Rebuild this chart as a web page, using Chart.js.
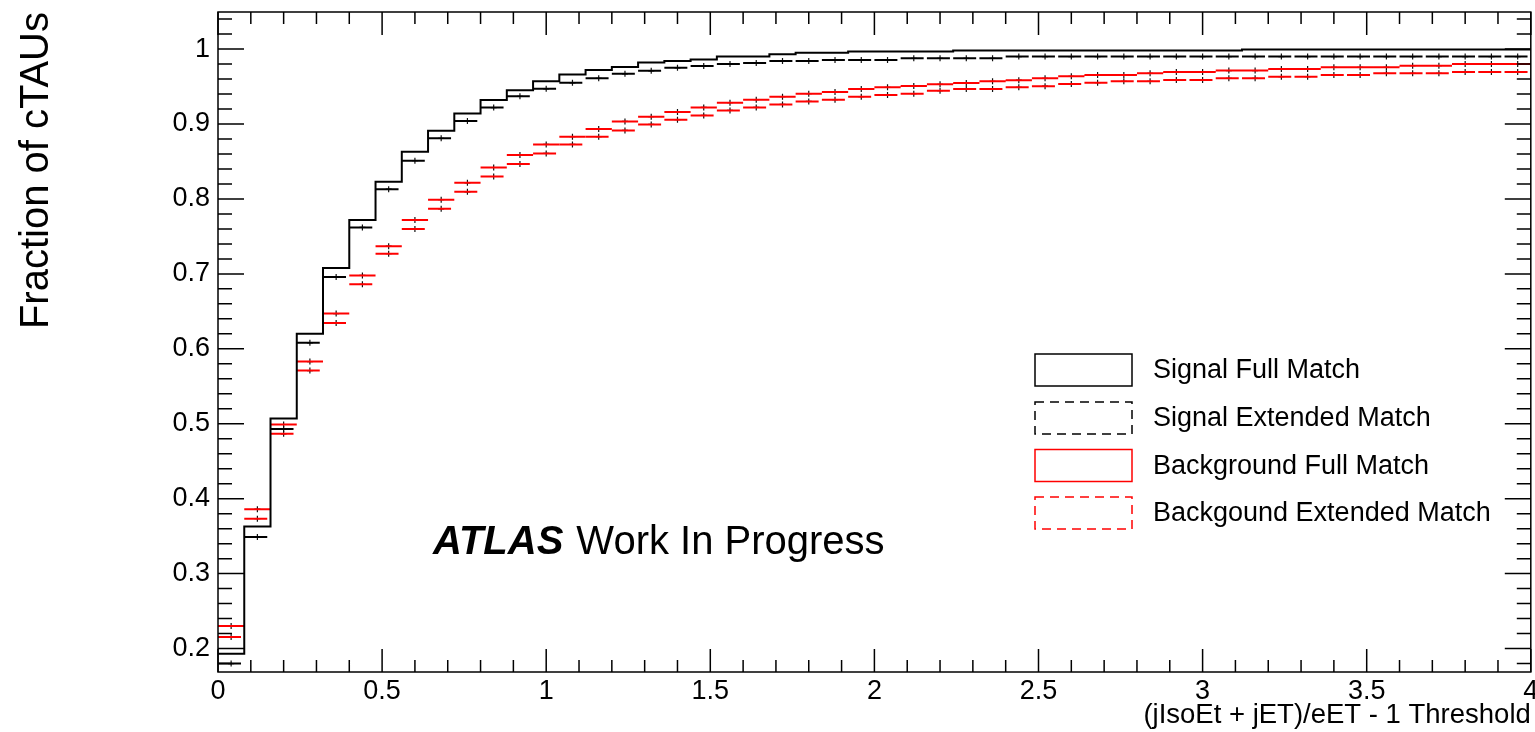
<!DOCTYPE html>
<html><head><meta charset="utf-8">
<script src="https://cdn.jsdelivr.net/npm/chart.js@4.4.1/dist/chart.umd.min.js"></script>
<style>html,body{margin:0;padding:0;background:#fff;overflow:hidden}canvas{display:block}</style>
</head><body>
<canvas id="c" width="1535" height="732"></canvas>
<script>
const binEdges = [0,0.08,0.16,0.24,0.32,0.4,0.48,0.56,0.64,0.72,0.8,0.88,0.96,1.04,1.12,1.2,1.28,1.36,1.44,1.52,1.6,1.68,1.76,1.84,1.92,2,2.08,2.16,2.24,2.32,2.4,2.48,2.56,2.64,2.72,2.8,2.88,2.96,3.04,3.12,3.2,3.28,3.36,3.44,3.52,3.6,3.68,3.76,3.84,3.92,4];
const sigFull = [0.193,0.363,0.507,0.620,0.708,0.772,0.823,0.863,0.891,0.914,
  0.932,0.945,0.957,0.966,0.972,0.976,0.982,0.984,0.986,0.990,
  0.990,0.993,0.995,0.995,0.9967,0.9967,0.9967,0.9967,0.998,0.998,
  0.998,0.998,0.998,0.998,0.998,0.998,0.998,0.998,0.998,0.9995,
  0.9995,0.9995,0.9995,0.9995,0.9995,0.9995,0.9995,0.9995,0.9995,0.9995];
const sigExt = [0.180,0.349,0.493,0.608,0.696,0.762,0.813,0.851,0.881,0.904,
  0.922,0.937,0.947,0.955,0.961,0.967,0.971,0.975,0.9775,0.980,
  0.9815,0.984,0.984,0.9855,0.9855,0.9855,0.9877,0.9877,0.9877,0.9877,
  0.990,0.990,0.990,0.990,0.990,0.990,0.990,0.990,0.990,0.990,
  0.990,0.990,0.990,0.990,0.990,0.990,0.990,0.990,0.990,0.990];
const bkgFull = [0.230,0.386,0.499,0.583,0.647,0.698,0.737,0.772,0.799,0.8215,
  0.842,0.8585,0.8728,0.883,0.8933,0.9035,0.9098,0.916,0.9222,0.9285,
  0.9325,0.9365,0.9405,0.9428,0.9468,0.949,0.9508,0.953,0.9548,0.957,
  0.9585,0.961,0.9636,0.9655,0.9655,0.9677,0.9695,0.9695,0.9713,0.9713,
  0.9735,0.9735,0.9757,0.9757,0.9757,0.9779,0.9779,0.980,0.980,0.980];
const bkgExt = [0.2155,0.3733,0.4866,0.571,0.6344,0.6861,0.727,0.760,0.7868,0.8095,
  0.830,0.8465,0.8607,0.8728,0.883,0.8915,0.8995,0.9057,0.9115,0.9182,
  0.9222,0.9262,0.9302,0.9325,0.9365,0.9387,0.9405,0.9445,0.9468,0.9468,
  0.949,0.9505,0.9534,0.9552,0.957,0.957,0.9588,0.9588,0.961,0.961,
  0.9632,0.9632,0.9655,0.9655,0.9677,0.9677,0.9677,0.9695,0.9695,0.9695];
const seriesLabels = ['Signal Full Match','Signal Extended Match','Background Full Match','Backgound Extended Match'];
const xTickValues = [0,0.5,1,1.5,2,2.5,3,3.5,4];
const xTickLabels = ['0','0.5','1','1.5','2','2.5','3','3.5','4'];
const yTickValues = [0.2,0.3,0.4,0.5,0.6,0.7,0.8,0.9,1];
const yTickLabels = ['0.2','0.3','0.4','0.5','0.6','0.7','0.8','0.9','1'];
const xTitle = '(jIsoEt + jET)/eET - 1 Threshold';
const yTitle = 'Fraction of cTAUs';
const atlasBold = 'ATLAS';
const atlasText = 'Work In Progress';

const FONT = '"Liberation Sans", Arial, Helvetica, sans-serif';
const RED = '#ff0000';
const BLACK = '#000000';
const HIST_DASH = [23, 60];
const LEGEND_DASH = [9, 6];

function stepData(vals){
  const d = vals.map((v,i)=>({x:binEdges[i], y:v}));
  d.push({x:binEdges[vals.length], y:vals[vals.length-1]});
  return d;
}
function segData(vals){
  const d = [];
  vals.forEach((v,i)=>{
    d.push({x:binEdges[i], y:v});
    d.push({x:binEdges[i+1], y:v});
    d.push({x:binEdges[i+1], y:null});
  });
  return d;
}
function errData(vals){
  return vals.map((v,i)=>({x:(binEdges[i]+binEdges[i+1])/2, y:v}));
}

const lineBase = {type:'line', pointRadius:0, pointHoverRadius:0, fill:false, borderWidth:2, spanGaps:false, tension:0};
const errBase = {type:'line', showLine:false, pointStyle:'cross', pointRadius:3, pointHoverRadius:3,
  borderColor:'#111', backgroundColor:'#111', pointBorderWidth:1.2, legendSkip:true};

const datasets = [
  Object.assign({}, lineBase, {label:seriesLabels[0], data:stepData(sigFull), borderColor:BLACK, stepped:'before', legendDashed:false}),
  Object.assign({}, lineBase, {label:seriesLabels[1], data:segData(sigExt), borderColor:BLACK, borderDash:HIST_DASH, legendDashed:true}),
  Object.assign({}, lineBase, {label:seriesLabels[2], data:segData(bkgFull), borderColor:RED, legendDashed:false}),
  Object.assign({}, lineBase, {label:seriesLabels[3], data:segData(bkgExt), borderColor:RED, borderDash:HIST_DASH, legendDashed:true}),
  Object.assign({}, errBase, {label:'e1', data:errData(sigExt)}),
  Object.assign({}, errBase, {label:'e2', data:errData(bkgFull)}),
  Object.assign({}, errBase, {label:'e3', data:errData(bkgExt)})
];

const framePlugin = {
  id:'frameTicks',
  afterDraw(chart){
    const {ctx, chartArea:a, scales:{x, y}} = chart;
    ctx.save();
    ctx.strokeStyle = BLACK;
    ctx.lineWidth = 1.5;
    ctx.setLineDash([]);
    ctx.strokeRect(a.left, a.top, a.right - a.left, a.bottom - a.top);
    ctx.beginPath();
    for (let m = -10; m <= 60; m++){
      const v = 0.2 + m*0.02;
      if (v < y.min - 1e-9 || v > y.max + 1e-9) continue;
      const p = y.getPixelForValue(v);
      const len = (m % 5 === 0) ? 26 : 14;
      ctx.moveTo(a.left, p); ctx.lineTo(a.left + len, p);
      ctx.moveTo(a.right, p); ctx.lineTo(a.right - len, p);
    }
    for (let m = 0; m <= 40; m++){
      const v = m*0.1;
      const p = x.getPixelForValue(v);
      const len = (m % 5 === 0) ? 23 : 12;
      ctx.moveTo(p, a.bottom); ctx.lineTo(p, a.bottom - len);
      ctx.moveTo(p, a.top); ctx.lineTo(p, a.top + len);
    }
    ctx.stroke();

    const rows = [370, 418, 465.5, 513];
    const bx = 1035, bw = 97, bh = 32;
    chart.data.datasets.forEach((ds, i) => {
      if (ds.legendSkip || i >= rows.length) return;
      const cy = rows[i];
      ctx.strokeStyle = ds.borderColor;
      ctx.lineWidth = 1.5;
      ctx.setLineDash(ds.legendDashed ? LEGEND_DASH : []);
      ctx.strokeRect(bx, cy - bh/2, bw, bh);
      ctx.setLineDash([]);
      ctx.fillStyle = BLACK;
      ctx.font = '27px ' + FONT;
      ctx.textAlign = 'left';
      ctx.textBaseline = 'middle';
      ctx.fillText(ds.label, 1153, cy + 1);
    });

    ctx.fillStyle = BLACK;
    ctx.textBaseline = 'alphabetic';
    ctx.textAlign = 'left';
    ctx.font = 'italic bold 40px ' + FONT;
    ctx.fillText(atlasBold, 433, 554);
    const w = ctx.measureText(atlasBold).width;
    ctx.font = '40px ' + FONT;
    ctx.fillText(atlasText, 433 + w + 13, 554);
    ctx.restore();
  }
};

new Chart(document.getElementById('c'), {
  type:'line',
  data:{datasets},
  plugins:[framePlugin],
  options:{
    responsive:false,
    animation:false,
    devicePixelRatio:1,
    events:[],
    layout:{padding:{left:0, right:4, top:12, bottom:0}},
    plugins:{legend:{display:false}, tooltip:{enabled:false}, title:{display:false}},
    scales:{
      x:{
        type:'linear', min:0, max:4,
        grid:{display:false, drawTicks:false},
        border:{display:false},
        afterBuildTicks(s){ s.ticks = xTickValues.map(v=>({value:v})); },
        afterFit(s){ s.height = 60; s.paddingLeft = 0; s.paddingRight = 0; },
        ticks:{autoSkip:false, maxRotation:0, color:BLACK, padding:3,
          font:{family:FONT, size:27},
          callback(v, i){ return xTickLabels[i]; }},
        title:{display:true, text:xTitle, align:'end', color:BLACK,
          font:{family:FONT, size:27.5, lineHeight:1.2}, padding:{top:0, bottom:0}}
      },
      y:{
        type:'linear', min:0.1687, max:1.0495,
        grid:{display:false, drawTicks:false},
        border:{display:false},
        afterBuildTicks(s){ s.ticks = yTickValues.map(v=>({value:v})); },
        afterFit(s){ s.width = 218; s.paddingTop = 0; s.paddingBottom = 0; },
        ticks:{autoSkip:false, color:BLACK, padding:8,
          font:{family:FONT, size:27},
          callback(v, i){ return yTickLabels[i]; }},
        title:{display:true, text:yTitle, align:'end', color:BLACK,
          font:{family:FONT, size:40, lineHeight:1.2}, padding:{top:13, bottom:0}}
      }
    }
  }
});
</script>
</body></html>
